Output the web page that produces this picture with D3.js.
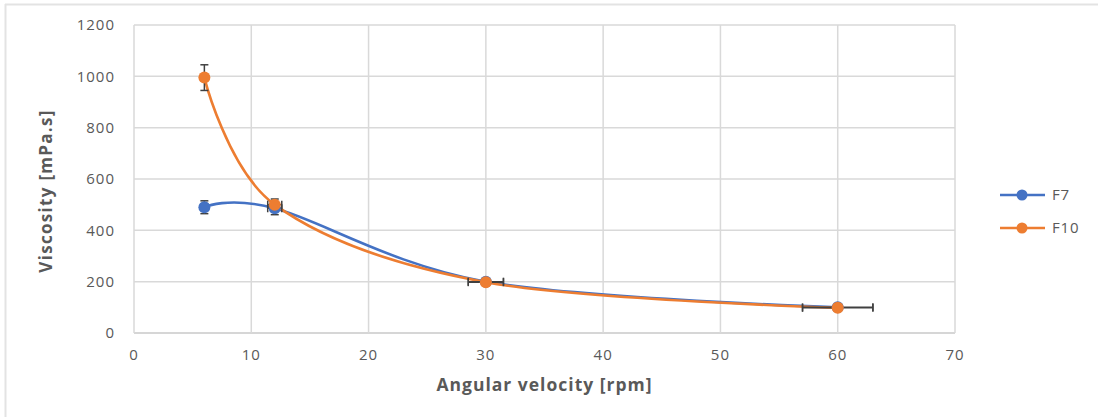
<!DOCTYPE html>
<html>
<head>
<meta charset="utf-8">
<script src="https://cdn.jsdelivr.net/npm/d3@7"></script>
<style>
  body { margin: 0; background: #fff; }
  text { font-family: "Open Sans", sans-serif; fill: #595959; }
</style>
</head>
<body>
<svg id="chart" width="1098" height="417"></svg>
<script>
// data
const speeds = [6, 12, 30, 60];
const f7 = [490, 486, 200, 100];
const f10 = [995, 500, 198, 98];
// error bars: vertical (viscosity) and horizontal (rpm)
const f7ErrY = [25, 25, 8, 0];
const f7ErrX = [0, 0.6, 1.5, 3];
const f10ErrY = [50, 22, 8, 0];
const f10ErrX = [0, 0.6, 1.5, 3];
const xTicks = [0, 10, 20, 30, 40, 50, 60, 70];
const yTicks = [0, 200, 400, 600, 800, 1000, 1200];

const series = [
    {name: "F7", color: "#4472C4", values: f7, errY: f7ErrY, errX: f7ErrX},
    {name: "F10", color: "#ED7D31", values: f10, errY: f10ErrY, errX: f10ErrX}
];

const svg = d3.select("#chart");
const margin = {left: 134, right: 143, top: 25, bottom: 84};
const width = 1098 - margin.left - margin.right;
const height = 417 - margin.top - margin.bottom;

// outer frame (top and left edges only)
svg.append("line").attr("x1", 5).attr("x2", 1098).attr("y1", 4.5).attr("y2", 4.5)
    .attr("stroke", "#e3e3e3").attr("stroke-width", 2);
svg.append("line").attr("x1", 5.5).attr("x2", 5.5).attr("y1", 4).attr("y2", 417)
    .attr("stroke", "#e3e3e3").attr("stroke-width", 2);

const g = svg.append("g").attr("transform", `translate(${margin.left},${margin.top})`);

const x = d3.scaleLinear().domain([0, 70]).range([0, width]);
const y = d3.scaleLinear().domain([0, 1200]).range([height, 0]);

// gridlines
g.append("g").selectAll("line").data(yTicks).join("line")
    .attr("x1", 0).attr("x2", width)
    .attr("y1", d => y(d)).attr("y2", d => y(d))
    .attr("stroke", d => d === 0 ? "#c8c8c8" : "#d9d9d9").attr("stroke-width", 1.5);
g.append("g").selectAll("line").data(xTicks).join("line")
    .attr("x1", d => x(d)).attr("x2", d => x(d))
    .attr("y1", 0).attr("y2", height)
    .attr("stroke", "#d9d9d9").attr("stroke-width", 1.5);

// tick labels
g.append("g").selectAll("text").data(yTicks).join("text")
    .attr("x", -19).attr("y", d => y(d)).attr("dy", "0.35em")
    .attr("text-anchor", "end").style("font-size", "15px").style("letter-spacing", "1px")
    .text(d => d);
g.append("g").selectAll("text").data(xTicks).join("text")
    .attr("x", d => x(d)).attr("y", height + 22).attr("dy", "0.35em")
    .attr("text-anchor", "middle").style("font-size", "15px").style("letter-spacing", "1px")
    .text(d => d);

// axis titles
g.append("text")
    .attr("x", width / 2).attr("y", height + 52).attr("dy", "0.35em")
    .attr("text-anchor", "middle").style("font-size", "17.5px").style("font-weight", "bold")
    .style("letter-spacing", "1px")
    .text("Angular velocity [rpm]");
g.append("text")
    .attr("transform", `translate(${-88},${height / 2 + 12}) rotate(-90)`)
    .attr("dy", "0.35em")
    .attr("text-anchor", "middle").style("font-size", "17px").style("font-weight", "bold")
    .style("letter-spacing", "1.3px")
    .text("Viscosity [mPa.s]");

const line = d3.line()
    .x(d => x(d[0])).y(d => y(d[1]))
    .curve(d3.curveCardinal.tension(0));

series.forEach(s => {
    const pts = speeds.map((v, i) => [v, s.values[i]]);
    g.append("path").datum(pts)
        .attr("d", line).attr("fill", "none")
        .attr("stroke", s.color).attr("stroke-width", 2.6);
});

// error bars
series.forEach(s => {
    const eg = g.append("g").attr("stroke", "#404040").attr("stroke-width", 1.5);
    speeds.forEach((v, i) => {
        const cx = x(v), cy = y(s.values[i]);
        if (s.errY[i] > 0) {
            const y0 = y(s.values[i] - s.errY[i]), y1 = y(s.values[i] + s.errY[i]);
            eg.append("line").attr("x1", cx).attr("x2", cx).attr("y1", y0).attr("y2", y1);
            eg.append("line").attr("x1", cx - 4).attr("x2", cx + 4).attr("y1", y0).attr("y2", y0);
            eg.append("line").attr("x1", cx - 4).attr("x2", cx + 4).attr("y1", y1).attr("y2", y1);
        }
        if (s.errX[i] > 0) {
            const x0 = x(v - s.errX[i]), x1 = x(v + s.errX[i]);
            eg.append("line").attr("x1", x0).attr("x2", x1).attr("y1", cy).attr("y2", cy);
            eg.append("line").attr("x1", x0).attr("x2", x0).attr("y1", cy - 4).attr("y2", cy + 4);
            eg.append("line").attr("x1", x1).attr("x2", x1).attr("y1", cy - 4).attr("y2", cy + 4);
        }
    });
});

// markers
series.forEach(s => {
    g.append("g").selectAll("circle").data(speeds.map((v, i) => [v, s.values[i]])).join("circle")
        .attr("cx", d => x(d[0])).attr("cy", d => y(d[1])).attr("r", 6)
        .attr("fill", s.color);
});

// legend
const legend = svg.append("g").attr("transform", "translate(1000,195)");
series.forEach((s, i) => {
    const lg = legend.append("g").attr("transform", `translate(0,${i * 33})`);
    lg.append("line").attr("x1", 0).attr("x2", 45).attr("stroke", s.color).attr("stroke-width", 2.6);
    lg.append("circle").attr("cx", 22).attr("r", 5.5).attr("fill", s.color);
    lg.append("text").attr("x", 52).attr("dy", "0.35em")
        .style("font-size", "15px").style("letter-spacing", "0.8px").text(s.name);
});
</script>
</body>
</html>
